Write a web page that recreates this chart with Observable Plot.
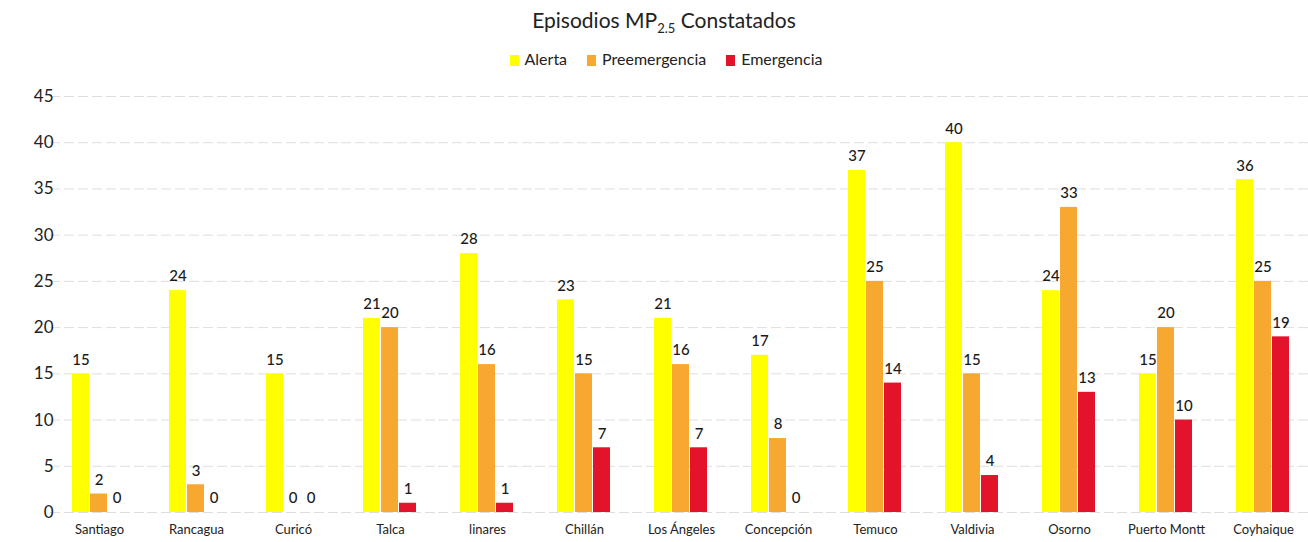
<!DOCTYPE html>
<html>
<head>
<meta charset="utf-8">
<script src="https://cdn.jsdelivr.net/npm/d3@7"></script>
<script src="https://cdn.jsdelivr.net/npm/@observablehq/plot@0.6"></script>
<style>
  html, body { margin: 0; padding: 0; background: #fff; }
  body { width: 1308px; height: 542px; overflow: hidden; font-family: Lato, "Open Sans", sans-serif; color: #222; }
  #title { position: absolute; left: 0; width: 1328px; top: 7px; text-align: center; font-size: 21px; color: #222; }
  #title sub { font-size: 13px; vertical-align: -5px; line-height: 0; }
  #legend { position: absolute; left: 0; width: 1332px; top: 49px; text-align: center; font-size: 16px; color: #222; }
  #legend span.item { display: inline-block; margin: 0 10px; }
  #legend span.sw { display: inline-block; width: 9px; height: 11px; margin-right: 6px; vertical-align: -1px; }
  #chart { position: absolute; left: 0; top: 72px; }
</style>
</head>
<body>
<div id="title">Episodios MP<sub>2.5</sub> Constatados</div>
<div id="legend"></div>
<div id="chart"></div>
<script>
const cities = ["Santiago", "Rancagua", "Curicó", "Talca", "linares", "Chillán", "Los Ángeles", "Concepción", "Temuco", "Valdivia", "Osorno", "Puerto Montt", "Coyhaique"];
const seriesNames = ["Alerta", "Preemergencia", "Emergencia"];
const alerta =        [15, 24, 15, 21, 28, 23, 21, 17, 37, 40, 24, 15, 36];
const preemergencia = [2, 3, 0, 20, 16, 15, 16, 8, 25, 15, 33, 20, 25];
const emergencia =    [0, 0, 0, 1, 1, 7, 7, 0, 14, 4, 13, 10, 19];
const colors = ["#FFFF00", "#F7A830", "#E3132C"];
const yTicks = [0, 5, 10, 15, 20, 25, 30, 35, 40, 45];

const seriesValues = [alerta, preemergencia, emergencia];
const data = [];
cities.forEach((c, i) => {
  seriesNames.forEach((s, j) => data.push({city: c, series: s, value: seriesValues[j][i]}));
});

const legend = document.getElementById("legend");
seriesNames.forEach((s, j) => {
  const it = document.createElement("span");
  it.className = "item";
  it.innerHTML = `<span class="sw" style="background:${colors[j]}"></span>${s}`;
  legend.appendChild(it);
});

const chart = Plot.plot({
  width: 1308,
  height: 470,
  marginTop: 24,
  marginBottom: 30,
  marginLeft: 50,
  marginRight: -4,
  style: {fontFamily: "Lato, 'Open Sans', sans-serif", color: "#222", background: "#fff"},
  fx: {domain: cities, paddingInner: 0.42, paddingOuter: 0.21, label: null, axis: null},
  x: {domain: seriesNames, padding: 0.05, axis: null},
  y: {domain: [0, 45], label: null, axis: null},
  color: {domain: seriesNames, range: colors},
  marks: [
    Plot.ruleY(yTicks, {stroke: "#dedede", strokeDasharray: "10,4", strokeWidth: 1, insetLeft: -21, insetRight: -21}),
    Plot.barY(data, {fx: "city", x: "series", y: "value", fill: "series"}),
    Plot.text(data, {fx: "city", x: "series", y: "value", text: d => String(d.value), dy: -14, fontSize: 15, fill: "#1a1a1a", fontWeight: 500}),
    Plot.axisY({ticks: yTicks, tickSize: 0, tickPadding: 18, fontSize: 17, label: null}),
    Plot.axisFx({anchor: "bottom", tickSize: 0, tickPadding: 12, fontSize: 13, label: null})
  ]
});
document.getElementById("chart").appendChild(chart);
</script>
</body>
</html>
